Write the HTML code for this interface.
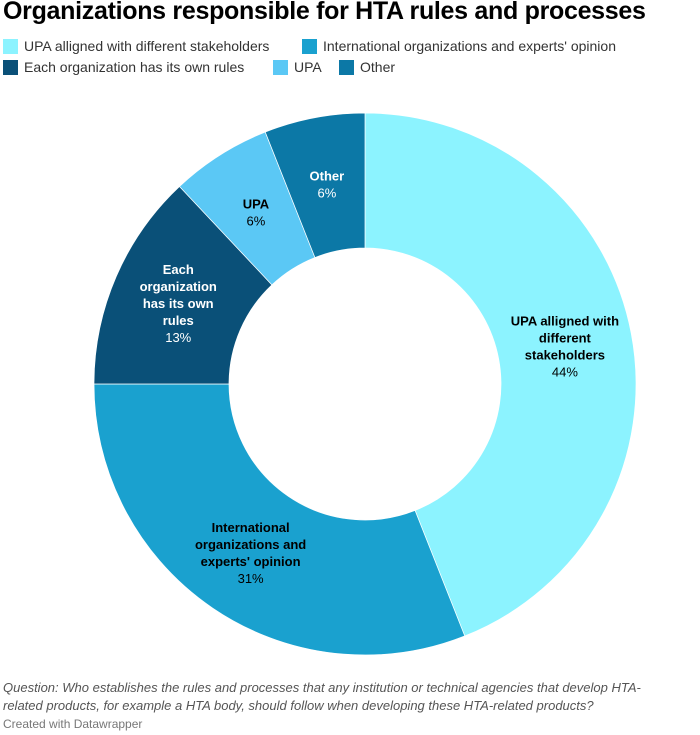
<!DOCTYPE html>
<html><head><meta charset="utf-8"><style>
body{margin:0;width:700px;height:735px;background:#fff;font-family:"Liberation Sans",sans-serif;overflow:hidden;position:relative}
h1{position:absolute;left:3px;top:-3px;margin:0;font-size:25px;font-weight:bold;color:#000;letter-spacing:-0.3px;white-space:nowrap}
.leg{position:absolute;font-size:14px;color:#333;white-space:nowrap;display:flex;align-items:center}
.sw{width:15px;height:15px;display:inline-block;margin-right:6px}
.foot{position:absolute;left:3px;font-size:13px;color:#555;font-style:italic;line-height:18px}
.cr{position:absolute;left:3px;top:717px;font-size:12px;color:#777}
</style></head><body>
<h1>Organizations responsible for HTA rules and processes</h1>
<div class="leg" style="left:3px;top:38px"><span class="sw" style="background:#8cf3ff"></span>UPA alligned with different stakeholders</div>
<div class="leg" style="left:302px;top:38px"><span class="sw" style="background:#1aa1cf"></span>International organizations and experts' opinion</div>
<div class="leg" style="left:3px;top:59px"><span class="sw" style="background:#0a5078"></span>Each organization has its own rules</div>
<div class="leg" style="left:273px;top:59px"><span class="sw" style="background:#5bc8f5"></span>UPA</div>
<div class="leg" style="left:339px;top:59px"><span class="sw" style="background:#0c78a6"></span>Other</div>
<svg id="chart" width="700" height="735" style="position:absolute;left:0;top:0"></svg>
<div class="foot" style="top:679px">Question: Who establishes the rules and processes that any institution or technical agencies that develop HTA-<br>related products, for example a HTA body, should follow when developing these HTA-related products?</div>
<div class="cr">Created with Datawrapper</div>
<script>
const categories=[["UPA alligned with","different","stakeholders"],["International","organizations and","experts' opinion"],["Each","organization","has its own","rules"],["UPA"],["Other"]];
const values=[44,31,13,6,6];
const valueLabels=["44%","31%","13%","6%","6%"];
const colors=["#8cf3ff","#1aa1cf","#0a5078","#5bc8f5","#0c78a6"];
const textColors=["#000","#000","#fff","#000","#fff"];
const svg=document.getElementById('chart');
const NS="http://www.w3.org/2000/svg";
const cx=365,cy=384,R=271,r=136;
const total=values.reduce((a,b)=>a+b,0);
function pt(a,rad){return [cx+rad*Math.sin(a),cy-rad*Math.cos(a)];}
let acc=0;
values.forEach((v,i)=>{
  const a0=acc/total*2*Math.PI;acc+=v;const a1=acc/total*2*Math.PI;
  const large=(a1-a0)>Math.PI?1:0;
  const p0=pt(a0,R),p1=pt(a1,R),q1=pt(a1,r),q0=pt(a0,r);
  const path=document.createElementNS(NS,'path');
  path.setAttribute('d',`M${p0[0]},${p0[1]}A${R},${R} 0 ${large} 1 ${p1[0]},${p1[1]}L${q1[0]},${q1[1]}A${r},${r} 0 ${large} 0 ${q0[0]},${q0[1]}Z`);
  path.setAttribute('fill',colors[i]);path.setAttribute('stroke','#fff');path.setAttribute('stroke-width','0.7');
  
  
  svg.appendChild(path);
  const am=(a0+a1)/2;const c=pt(am,(R+r)/2);
  const lines=categories[i].concat([valueLabels[i]]);
  const lh=17;const y0=c[1]-(lines.length-1)*lh/2+5;
  const t=document.createElementNS(NS,'text');
  t.setAttribute('text-anchor','middle');t.setAttribute('font-size','13');t.setAttribute('fill',textColors[i]);
  t.setAttribute('font-family','Liberation Sans, sans-serif');
  
  
  lines.forEach((l,j)=>{const ts=document.createElementNS(NS,'tspan');ts.setAttribute('x',c[0]);ts.setAttribute('y',y0+j*lh);
    if(j<lines.length-1)ts.setAttribute('font-weight','bold');ts.textContent=l;t.appendChild(ts);});
  svg.appendChild(t);
});
</script>
</body></html>
